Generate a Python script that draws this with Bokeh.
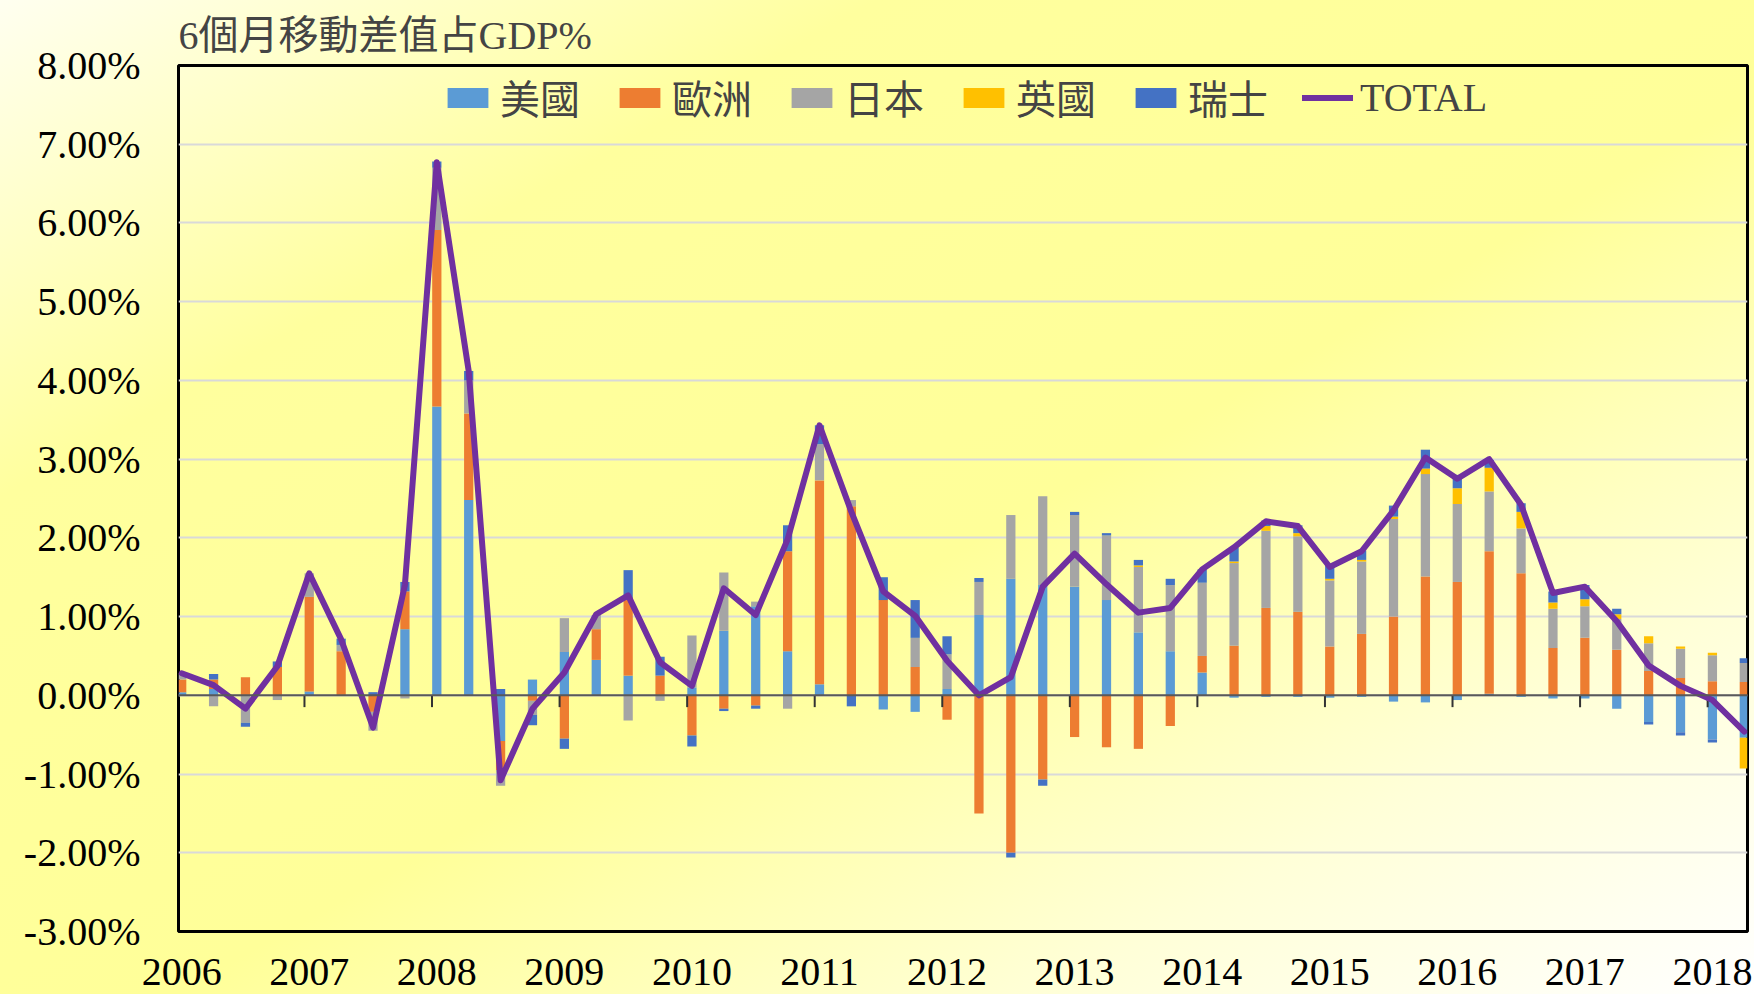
from bokeh.plotting import figure
from bokeh.models import (ColumnDataSource, Legend, LegendItem, FixedTicker,
                          PrintfTickFormatter, Span, GlobalInlineStyleSheet)
from bokeh.embed import file_html
from bokeh.resources import INLINE

# ---------------- data (quarterly, 2006Q1 .. 2018Q2) ----------------
title_text = "6個月移動差值占GDP%"
years = ["2006", "2007", "2008", "2009", "2010", "2011", "2012",
         "2013", "2014", "2015", "2016", "2017", "2018"]
series_names = ["美國", "歐洲", "日本", "英國", "瑞士"]

US = [0.04, 0.08, 0.00, 0.00, 0.05, 0.00, 0.00, 0.84, 3.67, 2.48,
      -0.58, 0.20, 0.55, 0.45, 0.25, 0.00, 0.10, 0.82, 1.13, 0.56,
      0.14, 0.00, -0.18, -0.21, 0.08, 1.02, 1.48, 1.40, 1.38, 1.21,
      0.80, 0.56, 0.29, -0.03, -0.02, -0.02, -0.03, -0.02, -0.08, -0.09,
      -0.06, 0.02, -0.02, -0.04, -0.04, -0.17, -0.34, -0.47, -0.56, -0.54]
EU = [0.16, 0.12, 0.23, 0.36, 1.20, 0.56, -0.21, 0.48, 2.24, 1.10,
      -0.37, -0.07, -0.55, 0.39, 0.96, 0.25, -0.51, -0.17, -0.13, 1.27,
      2.59, 2.40, 1.21, 0.36, -0.31, -1.50, -2.00, -1.07, -0.53, -0.66,
      -0.68, -0.39, 0.21, 0.63, 1.11, 1.06, 0.62, 0.78, 1.00, 1.51,
      1.44, 1.81, 1.55, 0.60, 0.73, 0.58, 0.31, 0.22, 0.18, 0.17]
JP = [0.08, -0.14, -0.35, -0.06, 0.30, 0.08, -0.24, -0.04, 0.79, 0.42,
      -0.20, -0.18, 0.43, 0.18, -0.32, -0.07, 0.66, 0.74, 0.06, -0.17,
      0.46, 0.08, 0.00, 0.37, 0.44, 0.42, 0.81, 1.13, 0.91, 0.82,
      0.83, 0.84, 0.93, 1.05, 0.98, 0.96, 0.84, 0.92, 1.24, 1.30,
      0.99, 0.76, 0.57, 0.50, 0.40, 0.39, 0.35, 0.37, 0.33, 0.24]
UK = [0.00, 0.00, 0.00, 0.00, 0.00, 0.00, 0.00, 0.00, 0.00, 0.00,
      0.00, 0.00, 0.00, 0.00, 0.00, 0.00, 0.00, 0.00, 0.00, 0.00,
      0.00, 0.00, 0.00, 0.00, 0.00, 0.00, 0.00, 0.00, 0.00, 0.00,
      0.02, 0.00, 0.00, 0.02, 0.06, 0.04, 0.02, 0.02, 0.03, 0.07,
      0.20, 0.30, 0.21, 0.08, 0.09, 0.06, 0.09, 0.03, 0.03, -0.39]
CH = [0.00, 0.07, -0.05, 0.07, 0.00, 0.08, 0.04, 0.12, 0.08, 0.12,
      0.08, -0.13, -0.13, 0.00, 0.38, 0.24, -0.14, -0.03, -0.04, 0.33,
      0.24, -0.14, 0.29, 0.48, 0.23, 0.05, -0.06, -0.08, 0.04, 0.03,
      0.07, 0.08, 0.17, 0.18, 0.07, 0.10, 0.17, 0.12, 0.14, 0.24,
      0.17, 0.10, 0.11, 0.14, 0.18, 0.07, -0.03, -0.04, -0.04, 0.06]
TOTAL = [0.28, 0.13, -0.17, 0.37, 1.55, 0.71, -0.41, 1.40, 6.77, 4.12,
         -1.08, -0.17, 0.29, 1.03, 1.27, 0.42, 0.12, 1.36, 1.02, 1.98,
         3.43, 2.33, 1.32, 1.01, 0.44, 0.00, 0.23, 1.38, 1.80, 1.41,
         1.05, 1.11, 1.60, 1.88, 2.21, 2.15, 1.63, 1.83, 2.35, 3.02,
         2.75, 3.00, 2.42, 1.30, 1.38, 0.94, 0.38, 0.12, -0.06, -0.46]

colors = ["#5B9BD5", "#ED7D31", "#A5A5A5", "#FFC000", "#4472C4"]
total_color = "#7030A0"

# ---------------- sources ----------------
x = list(range(len(TOTAL)))
keys = ["us", "eu", "jp", "uk", "ch"]
vals = [US, EU, JP, UK, CH]
pos = {k: [max(v, 0.0) for v in vs] for k, vs in zip(keys, vals)}
neg = {k: [min(v, 0.0) for v in vs] for k, vs in zip(keys, vals)}
src_pos = ColumnDataSource(dict(x=x, **pos))
src_neg = ColumnDataSource(dict(x=x, **neg))

serif = "Liberation Serif"
mixed = "'Liberation Serif', 'Noto Sans CJK TC'"

p = figure(width=1754, height=994, output_backend="svg", toolbar_location=None,
           x_range=(-0.1, len(TOTAL) - 0.9), y_range=(-3, 8),
           min_border_left=178, min_border_right=7, min_border_top=65,
           min_border_bottom=63)
p.stylesheets = [GlobalInlineStyleSheet(css=(
    "body{background:linear-gradient(to bottom right,#FFFFF0 0%,#FFFF9E 25%,"
    "#FFFF99 55%,#FFFFD8 80%,#FFFFFF 100%);}"))]
p.background_fill_alpha = 0
p.border_fill_alpha = 0
p.outline_line_color = "black"
p.outline_line_width = 3

# title
p.title.text = title_text
p.title.text_font = mixed
p.title.text_font_size = "40px"
p.title.text_font_style = "normal"
p.title.align = "left"
p.title.standoff = 16

# grid
p.xgrid.visible = False
p.ygrid.ticker = FixedTicker(ticks=list(range(-3, 9)))
p.ygrid.grid_line_color = "#D9D9D9"
p.ygrid.grid_line_width = 2

# bars
r_pos = p.vbar_stack(keys, x="x", width=0.29, fill_color=colors, line_color=None,
                     source=src_pos)
r_neg = p.vbar_stack(keys, x="x", width=0.29, fill_color=colors, line_color=None,
                     source=src_neg)

# zero line and year ticks on it
p.add_layout(Span(location=0, dimension="width", line_color="#595959", line_width=2))
year_idx = [4 * k for k in range(len(years))]
p.segment(x0=[t - 0.15 for t in year_idx], y0=0, x1=[t - 0.15 for t in year_idx],
          y1=-0.15, line_color="#333333", line_width=2)

# total line
r_tot = p.line(x, TOTAL, line_color=total_color, line_width=6,
               line_join="round", line_cap="round")

# axes
xa = p.xaxis[0]
xa.ticker = FixedTicker(ticks=year_idx)
xa.major_label_overrides = {i: y for i, y in zip(year_idx, years)}
xa.axis_line_color = None
xa.major_tick_line_color = None
xa.minor_tick_line_color = None
xa.major_tick_out = 0
xa.major_label_text_font = serif
xa.major_label_text_font_size = "40px"
xa.major_label_text_color = "black"
xa.major_label_text_line_height = 0.8
xa.major_label_standoff = 27

ya = p.yaxis[0]
ya.ticker = FixedTicker(ticks=list(range(-3, 9)))
ya.formatter = PrintfTickFormatter(format="%.2f%%")
ya.axis_line_color = None
ya.major_tick_line_color = None
ya.minor_tick_line_color = None
ya.major_tick_out = 0
ya.major_label_text_font = serif
ya.major_label_text_font_size = "40px"
ya.major_label_text_color = "black"
ya.major_label_standoff = 38

# legend
items = [LegendItem(label=n, renderers=[r]) for n, r in zip(series_names, r_pos)]
items.append(LegendItem(label="TOTAL", renderers=[r_tot]))
legend = Legend(items=items, orientation="horizontal", location=(259, 800),
                glyph_width=51, glyph_height=25, label_standoff=7, spacing=34,
                label_text_font=mixed, label_text_font_size="40px",
                background_fill_alpha=0, border_line_alpha=0,
                padding=5, margin=0)
p.add_layout(legend)

open("out.html", "w").write(file_html(p, INLINE))
